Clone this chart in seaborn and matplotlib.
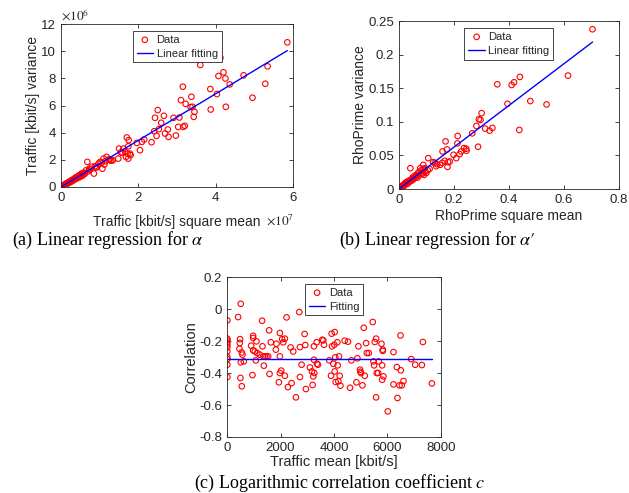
import matplotlib
matplotlib.use("Agg")
import matplotlib.pyplot as plt
import seaborn as sns
import numpy as np
import pandas as pd

# (a) traffic square mean [x1e7] vs variance [x1e6]
a_x = [5.85, 5.34, 5.28, 4.95, 4.72, 4.36, 4.25, 4.20, 4.26, 4.07, 4.03, 4.12, 3.86, 3.87, 3.60,
       3.45, 3.43, 3.37, 3.35, 3.40, 3.22, 3.15, 3.10, 3.06, 3.03, 3.16, 3.20, 2.91, 2.97, 2.76,
       2.78, 2.69, 2.66, 2.59, 2.53, 2.50, 2.47, 2.43, 2.41, 2.34, 2.15, 2.09, 2.04, 1.96, 1.78,
       1.74, 1.75, 1.70, 1.68, 1.74, 1.61, 1.59, 1.50, 1.48, 1.34, 1.24, 1.18, 1.07, 1.01, 0.97,
       0.88, 0.85, 0.68, 0.73, 0.65, 0.53, 0.47, 0.41, 1.66, 1.72, 1.80, 1.55, 1.30, 1.12, 0.92,
       0.02, 0.03, 0.05, 0.06, 0.08, 0.10, 0.12, 0.14, 0.16, 0.18, 0.20, 0.22, 0.25, 0.27, 0.30,
       0.32, 0.35, 0.37, 0.40, 0.42, 0.45, 0.48, 0.50, 0.55, 0.58, 0.62, 0.70, 0.75, 0.80, 0.90,
       1.05, 1.10, 1.15, 1.25, 1.28, 0.04, 0.09, 0.15, 0.24, 0.33, 0.44, 0.52, 0.60, 0.01, 0.07]
a_y = [10.66, 8.89, 7.61, 6.58, 8.23, 7.56, 8.00, 8.45, 5.91, 8.18, 6.85, 9.53, 7.22, 5.71, 8.99,
       5.54, 5.17, 6.65, 5.89, 5.91, 6.13, 7.39, 6.40, 5.12, 4.43, 4.43, 4.51, 5.10, 3.79, 4.24,
       3.69, 3.94, 5.25, 4.73, 4.26, 5.67, 3.77, 5.10, 4.11, 3.30, 3.50, 3.33, 2.71, 3.25, 2.46,
       3.00, 3.45, 3.65, 2.22, 2.09, 2.83, 2.51, 2.83, 2.09, 1.97, 2.02, 2.22, 1.35, 1.85, 1.72,
       1.53, 0.99, 1.85, 1.35, 1.23, 0.99, 0.86, 0.74, 2.60, 2.45, 2.35, 2.55, 1.95, 1.65, 1.45,
       0.03, 0.06, 0.05, 0.12, 0.10, 0.20, 0.18, 0.28, 0.25, 0.33, 0.30, 0.40, 0.38, 0.50, 0.45,
       0.58, 0.55, 0.68, 0.62, 0.75, 0.80, 0.72, 0.90, 0.82, 1.05, 1.00, 1.15, 1.28, 1.50, 1.45,
       1.80, 2.10, 1.90, 2.05, 1.95, 0.08, 0.14, 0.22, 0.36, 0.52, 0.70, 0.85, 0.95, 0.02, 0.09]
a_slope = 0.1718  # fitted variance / square mean

# (b) RhoPrime square mean vs variance
b_x = [0.704, 0.615, 0.537, 0.478, 0.440, 0.438, 0.419, 0.410, 0.395, 0.358, 0.340, 0.330, 0.314,
       0.301, 0.297, 0.291, 0.288, 0.282, 0.267, 0.245, 0.246, 0.237, 0.227, 0.221, 0.214, 0.213,
       0.209, 0.199, 0.177, 0.179, 0.170, 0.175, 0.167, 0.159, 0.158, 0.139, 0.131, 0.136, 0.125,
       0.107, 0.095, 0.089, 0.078, 0.042, 0.002, 0.004, 0.006, 0.008, 0.010, 0.012, 0.015, 0.018,
       0.020, 0.022, 0.025, 0.028, 0.030, 0.033, 0.035, 0.038, 0.040, 0.045, 0.048, 0.050, 0.055,
       0.058, 0.062, 0.065, 0.070, 0.072, 0.075, 0.080, 0.082, 0.085, 0.090, 0.092, 0.095, 0.100,
       0.105, 0.001, 0.003, 0.007, 0.013, 0.017, 0.026, 0.052, 0.068, 0.087, 0.112, 0.150, 0.185]
b_y = [0.238, 0.169, 0.126, 0.131, 0.167, 0.088, 0.159, 0.155, 0.127, 0.156, 0.091, 0.087, 0.090,
       0.113, 0.103, 0.104, 0.063, 0.094, 0.083, 0.060, 0.057, 0.061, 0.056, 0.052, 0.079, 0.068,
       0.046, 0.051, 0.033, 0.040, 0.071, 0.059, 0.042, 0.056, 0.039, 0.037, 0.039, 0.034, 0.040,
       0.046, 0.031, 0.036, 0.031, 0.031, 0.001, 0.002, 0.001, 0.003, 0.003, 0.004, 0.004, 0.006,
       0.005, 0.008, 0.007, 0.009, 0.010, 0.008, 0.012, 0.011, 0.013, 0.012, 0.015, 0.017, 0.016,
       0.020, 0.018, 0.021, 0.024, 0.020, 0.026, 0.022, 0.028, 0.025, 0.030, 0.021, 0.026, 0.024,
       0.028, 0.000, 0.001, 0.002, 0.005, 0.006, 0.010, 0.014, 0.017, 0.023, 0.030, 0.036, 0.041]
b_slope = 0.311

# (c) traffic mean vs logarithmic correlation
c_x = [10, 10, 10, 10, 10, 10, 10, 10, 10, 10, 10, 412, 512, 488, 462, 475, 550, 575, 512, 500,
       550, 625, 900, 950, 975, 975, 975, 1038, 1075, 1100, 1125, 1225, 1312, 1325, 1375, 1350,
       1412, 1475, 1538, 1575, 1588, 1638, 1825, 1850, 1938, 1975, 1975, 1975, 2025, 2062, 2100,
       2162, 2162, 2225, 2275, 2375, 2412, 2475, 2575, 2700, 2725, 2725, 2788, 2900, 2925, 2950,
       3100, 3175, 3200, 3225, 3250, 3250, 3262, 3350, 3362, 3400, 3562, 3600, 3625, 3825, 3888,
       3912, 3925, 3975, 4012, 4025, 4025, 4050, 4062, 4125, 4138, 4162, 4188, 4212, 4238, 4400,
       4525, 4600, 4650, 4838, 4875, 4912, 4975, 4988, 5012, 5062, 5112, 5150, 5200, 5225, 5300,
       5450, 5475, 5500, 5525, 5575, 5575, 5600, 5650, 5675, 5775, 5800, 5800, 5825, 5825, 5850,
       6012, 6225, 6225, 6350, 6375, 6450, 6488, 6500, 6538, 6600, 6888, 7038, 7288, 7325, 7662]
c_y = [-0.071, -0.185, -0.196, -0.208, -0.223, -0.240, -0.265, -0.300, -0.313, -0.348, -0.425,
       -0.050, 0.033, -0.188, -0.248, -0.212, -0.271, -0.285, -0.333, -0.431, -0.483, -0.327,
       -0.229, -0.413, -0.167, -0.181, -0.258, -0.265, -0.321, -0.202, -0.275, -0.285, -0.073,
       -0.233, -0.354, -0.296, -0.296, -0.296, -0.296, -0.133, -0.406, -0.208, -0.254, -0.217,
       -0.458, -0.400, -0.150, -0.296, -0.385, -0.188, -0.208, -0.185, -0.417, -0.052, -0.488,
       -0.240, -0.463, -0.265, -0.552, -0.019, -0.238, -0.425, -0.348, -0.156, -0.225, -0.500,
       -0.365, -0.390, -0.475, -0.421, -0.233, -0.317, -0.400, -0.208, -0.342, -0.348, -0.192,
       -0.196, -0.223, -0.321, -0.417, -0.154, -0.233, -0.342, -0.223, -0.144, -0.390, -0.302,
       -0.456, -0.208, -0.352, -0.452, -0.296, -0.417, -0.479, -0.198, -0.204, -0.492, -0.321,
       -0.458, -0.308, -0.233, -0.379, -0.392, -0.400, -0.477, -0.117, -0.417, -0.213, -0.275,
       -0.275, -0.081, -0.327, -0.352, -0.206, -0.185, -0.552, -0.400, -0.400, -0.327, -0.217,
       -0.352, -0.442, -0.254, -0.262, -0.421, -0.640, -0.269, -0.471, -0.363, -0.556, -0.477,
       -0.165, -0.383, -0.477, -0.450, -0.313, -0.348, -0.350, -0.206, -0.465]
c_fit = -0.310

sns.set_style("ticks")
plt.rcParams["font.family"] = ["Liberation Sans", "DejaVu Sans"]
plt.rcParams["mathtext.fontset"] = "stix"
plt.rcParams["xtick.direction"] = "in"
plt.rcParams["ytick.direction"] = "in"
plt.rcParams["xtick.top"] = True
plt.rcParams["ytick.right"] = True

gray = "#262626"
fig = plt.figure(figsize=(6.29, 4.93), dpi=100)
ax_a = fig.add_axes([0.097, 0.6207, 0.369, 0.3303])
ax_b = fig.add_axes([0.634, 0.6166, 0.350, 0.3404])
ax_c = fig.add_axes([0.361, 0.1136, 0.340, 0.3244])


def draw(ax, x, y, fx, fy, fit_label):
    sns.scatterplot(x=x, y=y, ax=ax, marker="o", s=16, facecolors="none",
                    edgecolor="red", linewidth=0.8, label="Data")
    sns.lineplot(x=fx, y=fy, ax=ax, color="blue", linewidth=1.0, label=fit_label)
    ax.tick_params(labelsize=9.5, colors=gray, length=3, width=0.6)
    for s in ax.spines.values():
        s.set_linewidth(0.6)
        s.set_color(gray)
    leg = ax.legend(loc="upper center", fontsize=8, frameon=True, fancybox=False,
                    edgecolor=gray, framealpha=1, borderpad=0.35, handlelength=1.5,
                    handletextpad=0.3, labelspacing=0.35, borderaxespad=0.6)
    leg.get_frame().set_linewidth(0.6)
    return leg


# (a)
ax = ax_a
xa = np.array(a_x) * 1e7
ya = np.array(a_y) * 1e6
fxa = np.array([min(a_x), max(a_x)]) * 1e7
draw(ax, xa, ya, fxa, fxa * a_slope, "Linear fitting")
ax.set_xlim(0, 6e7)
ax.set_ylim(0, 12e6)
ax.set_xticks([0, 2e7, 4e7, 6e7])
ax.set_xticklabels(["0", "2", "4", "6"])
ax.set_yticks(np.arange(0, 13e6, 2e6))
ax.set_yticklabels([str(v) for v in range(0, 13, 2)])
ax.set_xlabel("Traffic [kbit/s] square mean", fontsize=10, color=gray)
ax.set_ylabel("Traffic [kbit/s] variance", fontsize=10, color=gray, labelpad=1)
ax.xaxis.set_label_coords(0.5, -0.17)
ax.text(0.0, 1.0, r"$\times 10^{6}$", transform=ax.transAxes, fontsize=9.5,
        color=gray, va="bottom", ha="left")
ax.text(0.945, -0.205, r"$\times 10^{7}$", transform=ax.transAxes, fontsize=9.5,
        color=gray, va="center", ha="center")

# (b)
ax = ax_b
fxb = np.array([min(b_x), max(b_x)])
draw(ax, b_x, b_y, fxb, fxb * b_slope, "Linear fitting")
ax.set_xlim(0, 0.8)
ax.set_ylim(0, 0.25)
ax.set_xticks([0, 0.2, 0.4, 0.6, 0.8])
ax.set_xticklabels(["0", "0.2", "0.4", "0.6", "0.8"])
ax.set_yticks([0, 0.05, 0.1, 0.15, 0.2, 0.25])
ax.set_yticklabels(["0", "0.05", "0.1", "0.15", "0.2", "0.25"])
ax.set_xlabel("RhoPrime square mean", fontsize=10, color=gray, labelpad=2)
ax.set_ylabel("RhoPrime variance", fontsize=10, color=gray, labelpad=1)

# (c)
ax = ax_c
fxc = np.array([0, max(c_x)])
draw(ax, c_x, c_y, fxc, np.array([c_fit, c_fit]), "Fitting")
ax.set_xlim(0, 8000)
ax.set_ylim(-0.8, 0.2)
ax.set_xticks([0, 2000, 4000, 6000, 8000])
ax.set_yticks([-0.8, -0.6, -0.4, -0.2, 0, 0.2])
ax.set_yticklabels(["-0.8", "-0.6", "-0.4", "-0.2", "0", "0.2"])
ax.set_xlabel("Traffic mean [kbit/s]", fontsize=10.5, color=gray, labelpad=1)
ax.set_ylabel("Correlation", fontsize=10.5, color=gray, labelpad=1)

cap = dict(fontsize=13, family=["Liberation Serif", "DejaVu Serif"], color="black",
           va="center", ha="center")
fig.text(108 / 629, 1 - 240 / 493, r"(a) Linear regression for $\alpha$", **cap)
fig.text(437 / 629, 1 - 240 / 493, r"(b) Linear regression for $\alpha\prime$", **cap)
fig.text(340 / 629, 1 - 483 / 493, r"(c) Logarithmic correlation coefficient $c$", **cap)

fig.savefig("out.png", dpi=100)
